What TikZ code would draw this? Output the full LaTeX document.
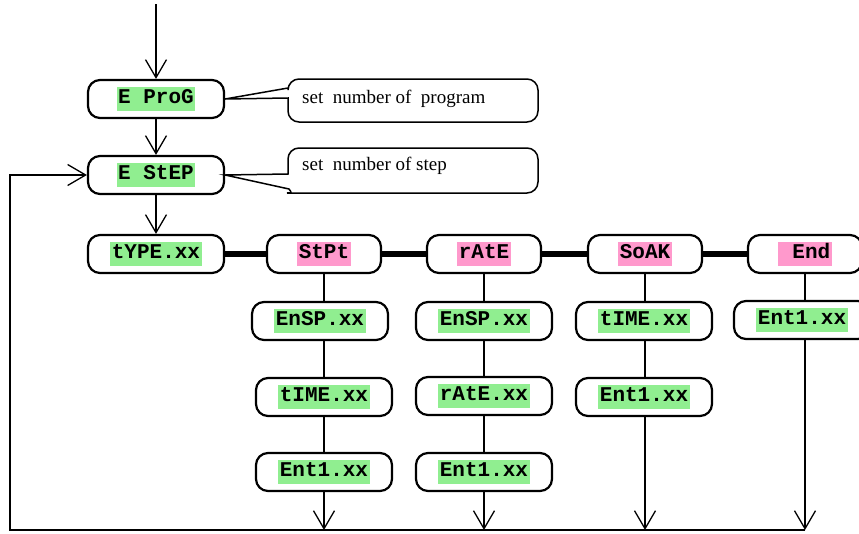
\documentclass[tikz,border=0pt]{standalone}
\usepackage{fontspec}
\setmainfont{Liberation Serif}
\newfontfamily\lmono{Liberation Mono}
\usetikzlibrary{arrows.meta}
\definecolor{lgreen}{RGB}{144,238,144}
\definecolor{lpink}{RGB}{255,153,204}
\newcommand{\gtx}[1]{{\setlength{\fboxsep}{0pt}\colorbox{lgreen}{\hspace{1.5pt}\strut#1\hspace{1.5pt}}}}
\newcommand{\ptx}[1]{{\setlength{\fboxsep}{0pt}\colorbox{lpink}{\hspace{1.5pt}\strut#1\hspace{1.5pt}}}}
\tikzset{
  box/.style={draw, line width=2.2pt, rounded corners=12pt, fill=white, minimum height=38pt,
    inner sep=0pt, font=\lmono\bfseries\fontsize{21}{24}\selectfont},
  wbox/.style={box, minimum width=136pt},
  nbox/.style={box, minimum width=114pt},
  conn/.style={line width=1.3pt},
  arr/.style={conn, -{Straight Barb[length=18pt,width=21pt,line width=1.3pt]}},
  bar/.style={line width=6.5pt},
  callout/.style={draw, line width=1.5pt},
  ctext/.style={anchor=base west, inner sep=0pt, font=\fontsize{19}{22}\selectfont}
}
\begin{document}
\begin{tikzpicture}[x=1pt,y=-1pt]
\useasboundingbox (0,0) rectangle (859,533);
\clip (0,0) rectangle (859,533);
% main column
\node[wbox] (eprog) at (156,99) {\gtx{E ProG}};
\node[wbox] (estep) at (156,175) {\gtx{E StEP}};
\node[wbox] (type) at (156,254) {\gtx{tYPE.xx}};
% top row
\node[nbox] (stpt) at (324,254) {\ptx{StPt}};
\node[nbox] (rate) at (484,254) {\ptx{rAtE}};
\node[nbox] (soak) at (645,254) {\ptx{SoAK}};
\node[nbox] (endn) at (805,254) {\ptx{\ End}};
% StPt column
\node[wbox] (s1) at (320,321) {\gtx{EnSP.xx}};
\node[wbox] (s2) at (324,397) {\gtx{tIME.xx}};
\node[wbox] (s3) at (324,472) {\gtx{Ent1.xx}};
% rAtE column
\node[wbox] (r1) at (484,321) {\gtx{EnSP.xx}};
\node[wbox] (r2) at (484,396) {\gtx{rAtE.xx}};
\node[wbox] (r3) at (484,472) {\gtx{Ent1.xx}};
% SoAK column
\node[wbox] (k1) at (644,321) {\gtx{tIME.xx}};
\node[wbox] (k2) at (644,397) {\gtx{Ent1.xx}};
% End column
\node[wbox] (e1) at (802,320) {\gtx{Ent1.xx}};
% coordinates
\coordinate (top) at (156,4);
\coordinate (bl) at (10,530);
% connectors
\draw[arr] (top) -- (eprog.north);
\draw[arr] (eprog.south) -- (estep.north);
\draw[arr] (estep.south) -- (type.north);
\draw[bar] (type.east) -- (stpt.west);
\draw[bar] (stpt.east) -- (rate.west);
\draw[bar] (rate.east) -- (soak.west);
\draw[bar] (soak.east) -- (endn.west);
\draw[conn] (stpt.south) -- (stpt.south |- s1.north);
\draw[conn] (stpt.south |- s1.south) -- (stpt.south |- s2.north);
\draw[conn] (stpt.south |- s2.south) -- (stpt.south |- s3.north);
\draw[arr] (stpt.south |- s3.south) -- (stpt.south |- bl);
\draw[conn] (rate.south) -- (rate.south |- r1.north);
\draw[conn] (rate.south |- r1.south) -- (rate.south |- r2.north);
\draw[conn] (rate.south |- r2.south) -- (rate.south |- r3.north);
\draw[arr] (rate.south |- r3.south) -- (rate.south |- bl);
\draw[conn] (soak.south) -- (soak.south |- k1.north);
\draw[conn] (soak.south |- k1.south) -- (soak.south |- k2.north);
\draw[arr] (soak.south |- k2.south) -- (soak.south |- bl);
\draw[conn] (endn.south) -- (endn.south |- e1.north);
\draw[arr] (endn.south |- e1.south) -- (endn.south |- bl);
\draw[arr] (endn.south |- bl) -- (bl) |- (estep.west);
% callouts
\draw[callout] (eprog.east) -- (288,88) {[rounded corners=11pt] -- (288,79) -- (538,79) -- (538,122) -- (288,122)} -- (288,98) -- cycle;
\draw[callout] (estep.east) -- (288,174) {[rounded corners=11pt] -- (288,148) -- (538,148) -- (538,193) -- (298,193)} .. controls (292,193) .. (289,189) -- cycle;
\node[ctext] (c1) at (302,103) {set\ \ number of\ \ program};
\node[ctext] (c2) at (302,170) {set\ \ number of step};
\end{tikzpicture}
\end{document}
